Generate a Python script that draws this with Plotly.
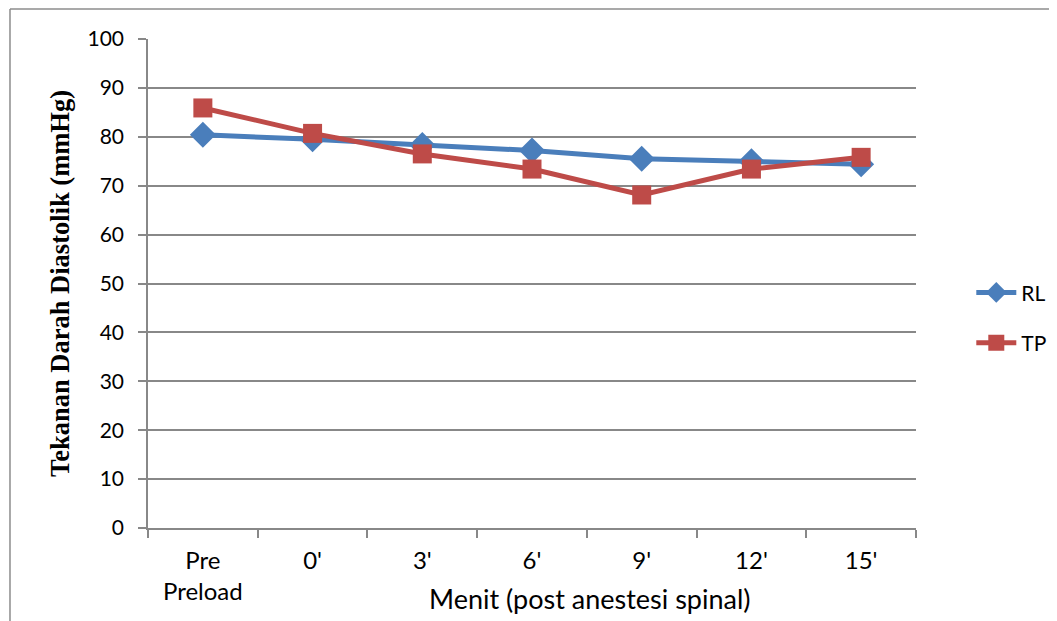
import plotly.graph_objects as go

categories = ["Pre<br>Preload", "0'", "3'", "6'", "9'", "12'", "15'"]
rl_values = [80.4, 79.5, 78.3, 77.2, 75.5, 75.0, 74.4]
tp_values = [85.9, 80.7, 76.5, 73.4, 68.1, 73.4, 75.8]
y_ticks = [0, 10, 20, 30, 40, 50, 60, 70, 80, 90, 100]

BLUE = "#4A7EBB"
RED = "#BE4B48"
FONT = "Liberation Sans Narrow, Lato, Arial"

fig = go.Figure()
fig.add_trace(go.Scatter(
    x=categories, y=rl_values, name="RL", mode="lines+markers",
    line=dict(color=BLUE, width=5),
    marker=dict(symbol="diamond", size=20, color=BLUE),
    legendgroup="a",
))
fig.add_trace(go.Scatter(
    x=categories, y=tp_values, name="TP", mode="lines+markers",
    line=dict(color=RED, width=5),
    marker=dict(symbol="square", size=19, color=RED),
    legendgroup="b",
))

fig.update_layout(
    width=1049, height=613,
    margin=dict(l=140, r=141, t=31, b=93, autoexpand=False),
    paper_bgcolor="white", plot_bgcolor="white",
    font=dict(family=FONT, size=21, color="black"),
    showlegend=True,
    legend=dict(x=1.072, y=0.43, xanchor="left", yanchor="middle",
                font=dict(size=21), tracegroupgap=20, itemwidth=40,
                bgcolor="rgba(0,0,0,0)"),
    xaxis=dict(
        type="category", tickson="boundaries",
        showline=True, linecolor="#888888", linewidth=1.5,
        ticks="outside", ticklen=8, tickcolor="#888888", tickwidth=1.5,
        showgrid=False, tickfont=dict(size=24), ticklabelstandoff=10,
        range=[-0.5, 6.5],
    ),
    yaxis=dict(
        range=[0, 100], tickvals=y_ticks,
        showline=True, linecolor="#888888", linewidth=1.5,
        ticks="outside", ticklen=8, tickcolor="#888888", tickwidth=1.5,
        showgrid=True, gridcolor="#888888", gridwidth=1.5,
        zeroline=False, tickfont=dict(size=21), ticklabelstandoff=10,
        title=dict(text="<b>Tekanan Darah Diastolik (mmHg)</b>",
                   font=dict(family="Liberation Serif, Times New Roman, serif", size=26.5),
                   standoff=10),
    ),
)

# x-axis title (offset right of plot centre, as in the original)
fig.add_annotation(text="Menit (post anestesi spinal)", xref="paper", yref="paper",
                   x=0.575, y=-0.145, xanchor="center", yanchor="middle",
                   showarrow=False, font=dict(size=27))

# outer chart frame (left and top edges visible)
fig.add_shape(type="line", xref="paper", yref="paper",
              x0=-0.1797, x1=-0.1797, y0=1.0613, y1=-0.3,
              line=dict(color="#8c8c8c", width=1.5))
fig.add_shape(type="line", xref="paper", yref="paper",
              x0=-0.1797, x1=1.3, y0=1.0613, y1=1.0613,
              line=dict(color="#8c8c8c", width=1.5))

fig.write_html("out.html")
